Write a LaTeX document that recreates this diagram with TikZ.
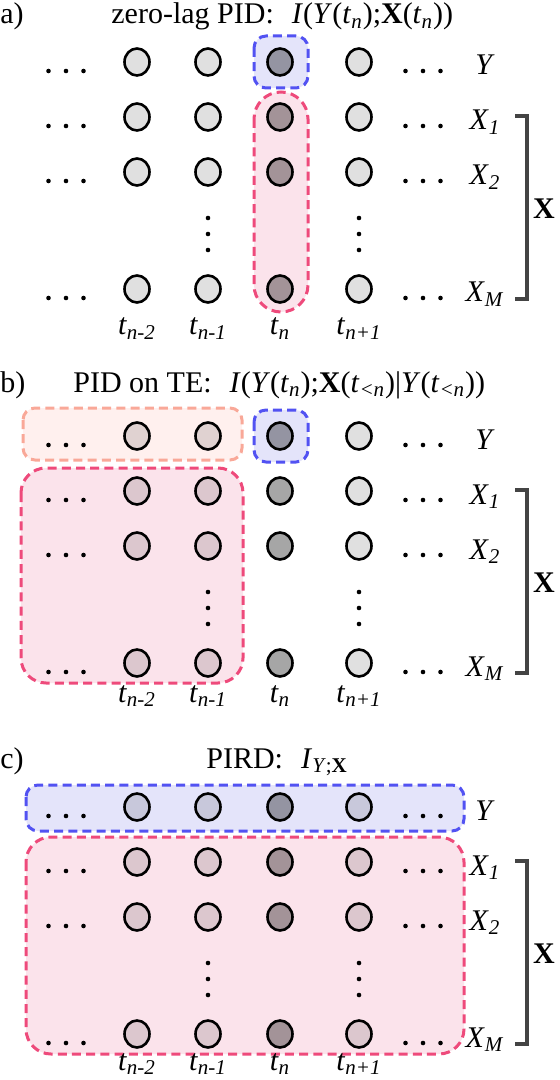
\documentclass[tikz,border=0pt]{standalone}
\usepackage{fontspec}
\setmainfont{Liberation Serif}
\usetikzlibrary{shapes.geometric}

\definecolor{boxpink}{HTML}{EE4A7B}
\definecolor{fillpink}{HTML}{FBE3EB}
\definecolor{boxblue}{HTML}{5252F2}
\definecolor{fillblue}{HTML}{E4E4FA}
\definecolor{boxsalmon}{HTML}{F9A898}
\definecolor{fillsalmon}{HTML}{FFF0EE}
\definecolor{bracegray}{HTML}{444444}

\newcommand{\vi}[1]{\textit{#1}}
\newcommand{\tsub}[2]{\textit{#1}\textsubscript{\textit{#2}}}

\tikzset{
	cell/.style={ellipse, draw, line width=1.3pt, minimum width=12.5pt, minimum height=13.5pt, inner sep=0pt, fill=black, fill opacity=0.12},
	dark/.style={fill opacity=0.35},
	grp/.style={line width=1.5pt, dash pattern=on 4.5pt off 2.6pt},
	title/.style={anchor=base west, inner sep=0pt}
}

\begin{document}
\begin{tikzpicture}[x=0.5pt, y=-0.5pt, every node/.append style={font=\fontsize{15}{18}\selectfont}]
\useasboundingbox (0,0) rectangle (559,1080);

% a) zero-lag PID
\begin{scope}[shift={(0,62)}]
	\node[title] (a-tag) at (0,-38) {a)};
	\node[title] (a-title) at (111,-38) {zero-lag PID:\hspace{0.6em}\vi{I}(\vi{Y}(\tsub{t}{n});\textbf{X}(\tsub{t}{n}))};
	\draw[grp, boxblue, fill=fillblue, rounded corners=6pt] (254,-26) rectangle (308,26);
	\draw[grp, boxpink, fill=fillpink, rounded corners=13.5pt] (254,30) rectangle (308,250);
\end{scope}

% b) PID on TE
\begin{scope}[shift={(0,436)}]
	\node[title] (b-tag) at (0,-44) {b)};
	\node[title] (b-title) at (73,-44) {PID on TE:\hspace{0.6em}\vi{I}(\vi{Y}(\tsub{t}{n});\textbf{X}(\tsub{t}{<n})|\vi{Y}(\tsub{t}{<n}))};
	\draw[grp, boxsalmon, fill=fillsalmon, rounded corners=6pt] (23,-28) rectangle (242,24);
	\draw[grp, boxblue, fill=fillblue, rounded corners=6pt] (254,-26) rectangle (308,26);
	\draw[grp, boxpink, fill=fillpink, rounded corners=12.5pt] (21,32) rectangle (243,247);
\end{scope}

% c) PIRD
\begin{scope}[shift={(0,807)}]
	\node[title] (c-tag) at (0,-39) {c)};
	\node[title] (c-title) at (206,-39) {PIRD:\hspace{0.6em}\vi{I}\textsubscript{\vi{Y};\textbf{X}}};
	\draw[grp, boxblue, fill=fillblue, rounded corners=6pt] (26,-22) rectangle (464,24);
	\draw[grp, boxpink, fill=fillpink, rounded corners=12.5pt] (26,30) rectangle (464,247);
\end{scope}

% grid of samples, same in every panel
\foreach \p/\oy/\tl in {a/62/46, b/436/39, c/807/36} {
\begin{scope}[shift={(0,\oy)}]
	\foreach \r/\ry/\lab in {y/0/\vi{Y}, x1/55/\tsub{X}{1}, x2/110/\tsub{X}{2}, xm/227/\tsub{X}{M}} {
		\foreach \c/\cx in {tA/137, tB/208, tD/359}
			\node[cell] (\p-\r-\c) at (\cx,\ry) {};
		\node[cell, dark] (\p-\r-tC) at (280,\ry) {};

		\foreach \dx in {-17.5, 0, 17.5} {
			\fill ({66+\dx},{\ry+9}) circle (1.15pt);
			\fill ({423+\dx},{\ry+9}) circle (1.15pt);
		}
		\node[anchor=base] (\p-lab-\r) at (485,{\ry+13}) {\lab};
	}

	\foreach \dy in {156, 172, 188} {
		\fill (208,\dy) circle (1.15pt);
		\fill (359,\dy) circle (1.15pt);
	}

	\foreach \c/\cx/\s in {tA/137/n-2, tB/208/n-1, tC/280/n, tD/359/n+1}
		\node[anchor=base] (\p-time-\c) at (\cx,{227+\tl}) {\tsub{t}{\s}};

	\draw[bracegray, line width=2pt] (515,54) -- (527,54) -- (527,237) -- (515,237);
	\node (\p-bigx) at (544,147) {\textbf{X}};
\end{scope}
}
\end{tikzpicture}
\end{document}
